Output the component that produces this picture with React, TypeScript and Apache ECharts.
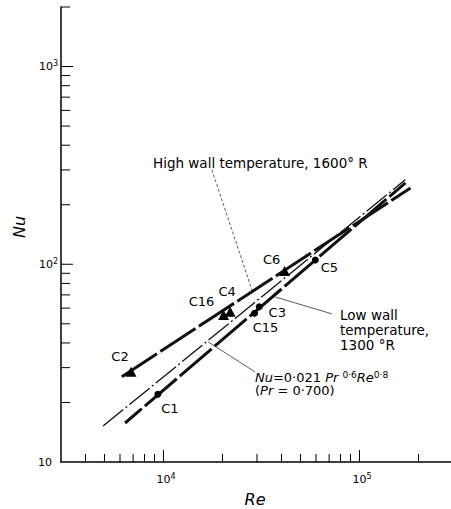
import React, { useEffect, useRef } from 'react';
import * as echarts from 'echarts';

const FONT = '"DejaVu Sans", sans-serif';

// Axis ranges
const X_MIN = 3000;
const X_MAX = 300000;
const Y_MIN = 10;
const Y_MAX = 2000;

// Tick values
const xTicks = [4000, 5000, 6000, 7000, 8000, 9000, 10000, 20000, 30000, 40000, 50000, 60000, 70000, 80000, 90000, 100000, 200000];
const yTicks = [20, 30, 40, 50, 60, 70, 80, 90, 100, 200, 300, 400, 500, 600, 700, 800, 900, 1000, 2000];

// High wall temperature points (triangles)
const highNames = ['C2', 'C16', 'C4', 'C6'];
const highRe = [6830, 20250, 21890, 41480];
const highNu = [28.6, 55.4, 57.6, 92.5];

// Low wall temperature points (circles)
const lowNames = ['C1', 'C15', 'C3', 'C5'];
const lowRe = [9360, 29150, 30810, 59530];
const lowNu = [22.0, 56.5, 61.0, 105.1];

// Fitted lines
const highLineRe = [6130, 182000];
const highLineNu = [27.0, 243];
const lowLineRe = [6370, 171600];
const lowLineNu = [15.75, 258];
const corrLineRe = [4920, 171600];
const corrLineNu = [15.2, 268];

// Leader lines
const leaderHighRe = [17660, 28280];
const leaderHighNu = [300, 74.1];
const leaderLowRe = [37180, 72440];
const leaderLowNu = [68.3, 56.1];
const leaderCorrRe = [16900, 29380];
const leaderCorrNu = [40.5, 28.5];

// label layout (px offsets from marker centre)
const highLabelOffsets = [[-11, -15], [-22, -13], [-3, -20], [-13, -11]];
const lowLabelOffsets = [[12, 14], [11, 14], [18, 6], [14, 8]];

const zip = (a: number[], b: number[]) => a.map((v, i) => [v, b[i]]);
const isPow10 = (v: number) => {
  const e = Math.log10(v);
  return Math.abs(e - Math.round(e)) < 1e-6;
};

export default function App() {
  const ref = useRef<HTMLDivElement>(null);
  useEffect(() => {
    document.body.style.margin = '0';
    const chart = echarts.init(ref.current!, null, { renderer: 'svg' });
    const supRich = {
      s: { fontSize: 8, fontFamily: FONT, color: '#000', verticalAlign: 'top', lineHeight: 14 },
      p: { width: 6, fontSize: 8 },
      q: { width: 5, fontSize: 8 },
    };
    const leader = (re: number[], nu: number[], type: any) => ({
      type: 'line',
      data: zip(re, nu),
      symbol: 'none',
      silent: true,
      z: 1,
      lineStyle: { color: '#333', width: 0.8, type },
    });
    const pointLabel = {
      show: true,
      position: 'inside',
      formatter: '{b}',
      color: '#000',
      fontSize: 13,
      fontFamily: FONT,
      textBorderWidth: 0,
    };
    const option: any = {
      animation: false,
      backgroundColor: '#fff',
      grid: { left: 61, top: 7, width: 392, height: 455, containLabel: false, outerBoundsMode: 'none' },
      xAxis: {
        type: 'log',
        logBase: 10,
        min: X_MIN,
        max: X_MAX,
        axisLine: { lineStyle: { color: '#000', width: 1.5 } },
        axisTick: { show: false },
        minorTick: { show: false },
        splitLine: { show: false },
        axisLabel: {
          margin: 10,
          fontSize: 11,
          fontFamily: FONT,
          color: '#000',
          lineHeight: 14,
          showMinLabel: false,
          showMaxLabel: false,
          formatter: (v: number) => (isPow10(v) ? `{q| }10{s|${Math.round(Math.log10(v))}}` : ''),
          rich: supRich,
        },
      },
      yAxis: {
        type: 'log',
        logBase: 10,
        min: Y_MIN,
        max: Y_MAX,
        axisLine: { lineStyle: { color: '#000', width: 1.5 } },
        axisTick: { show: false },
        minorTick: { show: false },
        splitLine: { show: false },
        axisLabel: {
          margin: 3,
          fontSize: 11,
          fontFamily: FONT,
          color: '#000',
          lineHeight: 14,
          formatter: (v: number) => {
            if (!isPow10(v)) return '';
            const e = Math.round(Math.log10(v));
            return e === 1 ? '10{p| }' : `10{s|${e}}`;
          },
          rich: supRich,
        },
      },
      series: [
        {
          type: 'line',
          data: zip(highLineRe, highLineNu),
          symbol: 'none',
          silent: true,
          z: 2,
          lineStyle: { color: '#111', width: 3, type: [42, 4] },
        },
        {
          type: 'line',
          data: zip(lowLineRe, lowLineNu),
          symbol: 'none',
          silent: true,
          z: 2,
          lineStyle: { color: '#111', width: 3, type: [42, 4], dashOffset: 20 },
        },
        {
          type: 'line',
          data: zip(corrLineRe, corrLineNu),
          symbol: 'none',
          silent: true,
          z: 2,
          lineStyle: { color: '#111', width: 1.3, type: [26, 3, 2, 3] },
        },
        leader(leaderHighRe, leaderHighNu, [3, 2]),
        leader(leaderLowRe, leaderLowNu, 'solid'),
        leader(leaderCorrRe, leaderCorrNu, 'solid'),
        {
          type: 'scatter',
          symbol: 'triangle',
          symbolSize: [11, 10],
          z: 3,
          itemStyle: { color: '#000', opacity: 1 },
          label: pointLabel,
          data: highRe.map((r, i) => ({
            name: highNames[i],
            value: [r, highNu[i]],
            label: { offset: highLabelOffsets[i] },
          })),
        },
        {
          type: 'scatter',
          symbol: 'circle',
          symbolSize: 7,
          z: 3,
          itemStyle: { color: '#000', opacity: 1 },
          label: pointLabel,
          data: lowRe.map((r, i) => ({
            name: lowNames[i],
            value: [r, lowNu[i]],
            label: { offset: lowLabelOffsets[i] },
          })),
        },
        {
          type: 'custom',
          coordinateSystem: 'cartesian2d',
          clip: false,
          silent: true,
          z: 4,
          data: xTicks.map((v) => [v, Y_MIN]),
          renderItem: (_p: any, api: any) => {
            const v = api.value(0);
            const pt = api.coord([v, Y_MIN]);
            const len = isPow10(v) ? 12 : 8;
            return {
              type: 'line',
              shape: { x1: pt[0], y1: pt[1], x2: pt[0], y2: pt[1] - len },
              style: { stroke: '#000', lineWidth: 1 },
            };
          },
        },
        {
          type: 'custom',
          coordinateSystem: 'cartesian2d',
          clip: false,
          silent: true,
          z: 4,
          data: yTicks.map((v) => [X_MIN, v]),
          renderItem: (_p: any, api: any) => {
            const v = api.value(1);
            const pt = api.coord([X_MIN, v]);
            const len = isPow10(v) ? 12 : 9;
            return {
              type: 'line',
              shape: { x1: pt[0], y1: pt[1], x2: pt[0] + len, y2: pt[1] },
              style: { stroke: '#000', lineWidth: 1 },
            };
          },
        },
      ],
      graphic: [
        {
          type: 'text',
          x: 153,
          y: 163,
          style: { text: 'High wall temperature, 1600° R', fontSize: 13.5, fontFamily: FONT, fill: '#000', align: 'left', verticalAlign: 'middle' },
        },
        {
          type: 'text',
          x: 340,
          y: 307.5,
          style: { text: 'Low wall\ntemperature,\n1300 °R', fontSize: 13.5, fontFamily: FONT, fill: '#000', lineHeight: 15, align: 'left', verticalAlign: 'top' },
        },
        {
          type: 'text',
          x: 255,
          y: 377,
          style: {
            text: '{i|Nu}=0·021 {i|Pr} {s|0·6}{i|Re}{s|0·8}',
            fontSize: 13,
            fontFamily: FONT,
            fill: '#000',
            lineHeight: 13,
            align: 'left',
            verticalAlign: 'middle',
            rich: {
              i: { fontStyle: 'italic', fontSize: 13, fontFamily: FONT, fill: '#000', lineHeight: 13 },
              s: { fontSize: 9, fontFamily: FONT, fill: '#000', lineHeight: 13, verticalAlign: 'top' },
            },
          },
        },
        {
          type: 'text',
          x: 255,
          y: 390.5,
          style: {
            text: '({i|Pr} = 0·700)',
            fontSize: 13,
            fontFamily: FONT,
            fill: '#000',
            lineHeight: 13,
            align: 'left',
            verticalAlign: 'middle',
            rich: {
              i: { fontStyle: 'italic', fontSize: 13, fontFamily: FONT, fill: '#000', lineHeight: 13 },
            },
          },
        },
        {
          type: 'text',
          x: 255,
          y: 499,
          style: { text: 'Re', fontSize: 16, fontStyle: 'italic', fontFamily: FONT, fill: '#000', align: 'center', verticalAlign: 'middle' },
        },
        {
          type: 'text',
          x: 19,
          y: 227,
          rotation: Math.PI / 2,
          style: { text: 'Nu', fontSize: 16, fontStyle: 'italic', fontFamily: FONT, fill: '#000', align: 'center', verticalAlign: 'middle' },
        },
      ],
    };
    chart.setOption(option);
    return () => chart.dispose();
  }, []);
  return (
    <div
      ref={ref}
      style={{ position: 'absolute', left: 0, top: 0, width: 451, height: 509, background: '#fff' }}
    />
  );
}
